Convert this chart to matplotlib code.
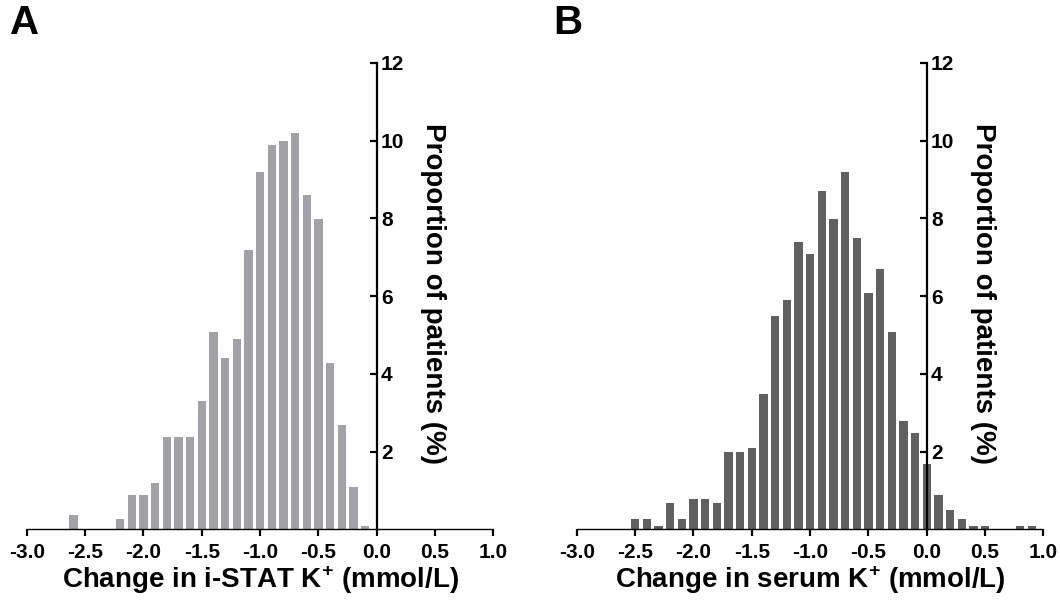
import numpy as np
import matplotlib.pyplot as plt

plt.rcParams['font.family'] = ['Liberation Sans', 'DejaVu Sans']
plt.rcParams['font.weight'] = 'bold'
plt.rcParams['mathtext.fontset'] = 'custom'
plt.rcParams['mathtext.rm'] = 'Liberation Sans:bold'
plt.rcParams['mathtext.bf'] = 'Liberation Sans:bold'

# Change in i-STAT K+ (bin centres, % of patients)
istat_bins = [-2.6, -2.2, -2.1, -2.0, -1.9, -1.8, -1.7, -1.6, -1.5, -1.4, -1.3, -1.2,
              -1.1, -1.0, -0.9, -0.8, -0.7, -0.6, -0.5, -0.4, -0.3, -0.2, -0.1]
istat_pct = [0.37, 0.27, 0.88, 0.88, 1.19, 2.38, 2.38, 2.38, 3.30, 5.08, 4.41, 4.90,
             7.19, 9.19, 9.89, 9.99, 10.2, 8.60, 7.99, 4.28, 2.68, 1.09, 0.09]

# Change in serum K+
serum_bins = [-2.5, -2.4, -2.3, -2.2, -2.1, -2.0, -1.9, -1.8, -1.7, -1.6, -1.5, -1.4,
              -1.3, -1.2, -1.1, -1.0, -0.9, -0.8, -0.7, -0.6, -0.5, -0.4, -0.3, -0.2,
              -0.1, 0.0, 0.1, 0.2, 0.3, 0.4, 0.5, 0.8, 0.9]
serum_pct = [0.26, 0.26, 0.08, 0.68, 0.26, 0.78, 0.78, 0.68, 1.99, 1.99, 2.09, 3.48,
             5.49, 5.90, 7.39, 7.08, 8.71, 7.99, 9.19, 7.50, 6.08, 6.70, 5.08, 2.79,
             2.48, 1.68, 0.88, 0.50, 0.26, 0.08, 0.08, 0.08, 0.08]

xticks = [-3.0, -2.5, -2.0, -1.5, -1.0, -0.5, 0.0, 0.5, 1.0]
yticks = [2, 4, 6, 8, 10, 12]

fig = plt.figure(figsize=(10.6, 6.09), dpi=100)
axA = fig.add_axes([0.0252, 0.1309, 0.4403, 0.7657])
axB = fig.add_axes([0.5441, 0.1309, 0.4403, 0.7657])


def draw_panel(ax, bins, pct, color, xlabel):
    ax.bar(bins, pct, width=0.072, color=color, linewidth=0)
    ax.set_xlim(-3.0, 1.0)
    ax.set_ylim(0, 12)

    for s in ['left', 'top']:
        ax.spines[s].set_visible(False)
    ax.spines['right'].set_position(('data', 0))
    ax.spines['right'].set_linewidth(1.6)
    ax.spines['bottom'].set_linewidth(1.0)
    ax.spines['bottom'].set_linestyle((0, (2, 1)))

    ax.set_xticks(xticks)
    ax.set_xticklabels(['%.1f' % t for t in xticks], fontsize=15, fontweight='bold')
    ax.tick_params(axis='x', direction='out', length=5, width=1.6, pad=5)

    ax.yaxis.tick_right()
    ax.set_yticks(yticks)
    ax.set_yticklabels([str(t) for t in yticks], fontsize=15, fontweight='bold')
    ax.tick_params(axis='y', direction='in', length=5, width=1.6, pad=3)

    ax.text(0.5, -0.109, xlabel, transform=ax.transAxes, fontsize=20,
            fontweight='bold', ha='center', va='center')
    ax.text(0.871, 0.506, 'Proportion of patients (%)', transform=ax.transAxes,
            fontsize=20, fontweight='bold', rotation=-90, ha='center', va='center')


draw_panel(axA, istat_bins, istat_pct, '#A1A1A6', r'Change in i-STAT K$^{+}$ (mmol/L)')
draw_panel(axB, serum_bins, serum_pct, '#606060', r'Change in serum K$^{+}$ (mmol/L)')

fig.text(0.009, 0.993, 'A', fontsize=29, fontweight='bold', va='top', ha='left')
fig.text(0.522, 0.993, 'B', fontsize=29, fontweight='bold', va='top', ha='left')

fig.savefig('out.png', dpi=100)
